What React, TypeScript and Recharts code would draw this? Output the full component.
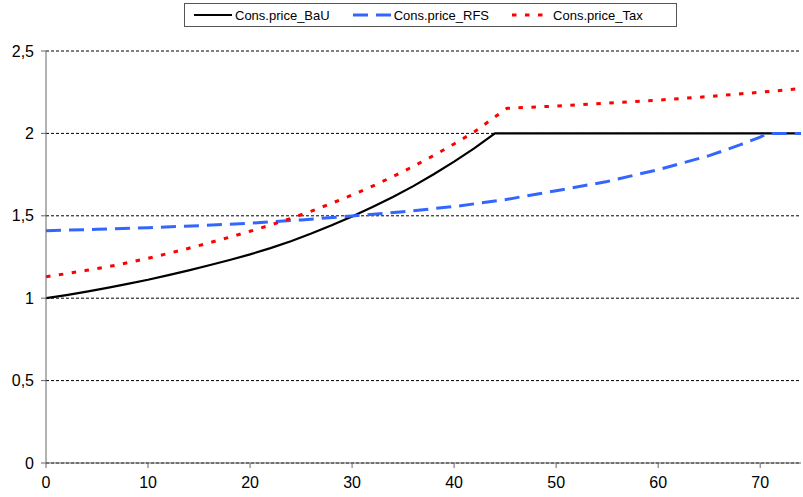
import React from 'react';
import { LineChart, Line, XAxis, YAxis, CartesianGrid } from 'recharts';

// Consumer price by year
const bauYears = [0, 2, 4, 6, 8, 10, 12, 14, 16, 18, 20, 22, 24, 26, 28, 30, 32, 34, 36, 38, 40, 42, 44, 50, 60, 70, 74];
const bauPrice = [1.0, 1.019, 1.04, 1.063, 1.087, 1.112, 1.14, 1.169, 1.2, 1.232, 1.266, 1.304, 1.346, 1.392, 1.442, 1.496, 1.553, 1.614, 1.68, 1.752, 1.829, 1.911, 2.0, 2.0, 2.0, 2.0, 2.0];

const rfsYears = [0, 5, 10, 15, 20, 25, 30, 35, 40, 45, 50, 55, 60, 65, 68, 70, 70.7, 74];
const rfsPrice = [1.41, 1.418, 1.428, 1.44, 1.455, 1.475, 1.499, 1.525, 1.556, 1.598, 1.652, 1.708, 1.78, 1.865, 1.93, 1.978, 2.0, 2.0];

const taxYears = [0, 2, 4, 6, 8, 10, 12, 14, 16, 18, 20, 22, 24, 26, 28, 30, 32, 34, 36, 38, 40, 42, 44, 45.2, 50, 55, 60, 65, 70, 74];
const taxPrice = [1.13, 1.149, 1.169, 1.19, 1.215, 1.242, 1.272, 1.303, 1.336, 1.37, 1.406, 1.444, 1.484, 1.528, 1.576, 1.626, 1.68, 1.738, 1.8, 1.866, 1.936, 2.01, 2.1, 2.152, 2.166, 2.184, 2.202, 2.224, 2.25, 2.272];

const xTicks = [0, 10, 20, 30, 40, 50, 60, 70];
const yTicks = [0, 0.5, 1, 1.5, 2, 2.5];

const zip = (xs: number[], ys: number[]) => xs.map((x, i) => ({ x, y: ys[i] }));

const SERIES = [
  { name: 'Cons.price_BaU', data: zip(bauYears, bauPrice), color: '#000000', width: 2.2, dash: undefined as string | undefined },
  { name: 'Cons.price_RFS', data: zip(rfsYears, rfsPrice), color: '#3366FF', width: 3, dash: '15 8' },
  { name: 'Cons.price_Tax', data: zip(taxYears, taxPrice), color: '#FF0000', width: 3, dash: '4.5 8.5' },
];

const FONT = '"Liberation Sans", Arial, sans-serif';

const BoxLegend = () => (
  <div
    style={{
      position: 'absolute',
      top: 3,
      left: 184,
      display: 'flex',
      alignItems: 'center',
      height: 24,
      width: 493,
      border: '1px solid #555',
      fontFamily: FONT,
      fontSize: 13,
      color: '#000',
      paddingLeft: 9,
      boxSizing: 'border-box',
      background: '#fff',
    }}
  >
    {SERIES.map((s, i) => (
      <div key={s.name} style={{ display: 'flex', alignItems: 'center', marginRight: i < 2 ? 23 : 0 }}>
        <svg width={38} height={6} style={{ marginRight: 3 }}>
          <line x1={0} y1={3} x2={38} y2={3} stroke={s.color} strokeWidth={s.width} strokeDasharray={s.dash} />
        </svg>
        <span>{s.name}</span>
      </div>
    ))}
  </div>
);

export default function App() {
  return (
    <div style={{ position: 'absolute', left: 0, top: 0, width: 803, height: 497 }}>
      <LineChart width={803} height={497} margin={{ top: 51, right: 2, left: 6, bottom: 4 }}>
        <CartesianGrid vertical={false} stroke="#000" strokeDasharray="3 2" strokeWidth={1} />
        <XAxis
          dataKey="x"
          type="number"
          domain={[0, 74]}
          ticks={xTicks}
          allowDataOverflow
          height={30}
          stroke="#666"
          tickSize={5}
          tickMargin={9}
          tick={{ fill: '#000', fontSize: 16, fontFamily: FONT }}
        />
        <YAxis
          type="number"
          domain={[0, 2.5]}
          ticks={yTicks}
          width={40}
          stroke="#666"
          tickSize={5}
          tickMargin={7}
          tickFormatter={(v: number) => String(v).replace('.', ',')}
          tick={{ fill: '#000', fontSize: 16, fontFamily: FONT }}
        />
        {SERIES.map(s => (
          <Line
            key={s.name}
            name={s.name}
            data={s.data}
            dataKey="y"
            type="linear"
            stroke={s.color}
            strokeWidth={s.width}
            strokeDasharray={s.dash}
            dot={false}
            activeDot={false}
            isAnimationActive={false}
          />
        ))}
      </LineChart>
      <BoxLegend />
    </div>
  );
}
